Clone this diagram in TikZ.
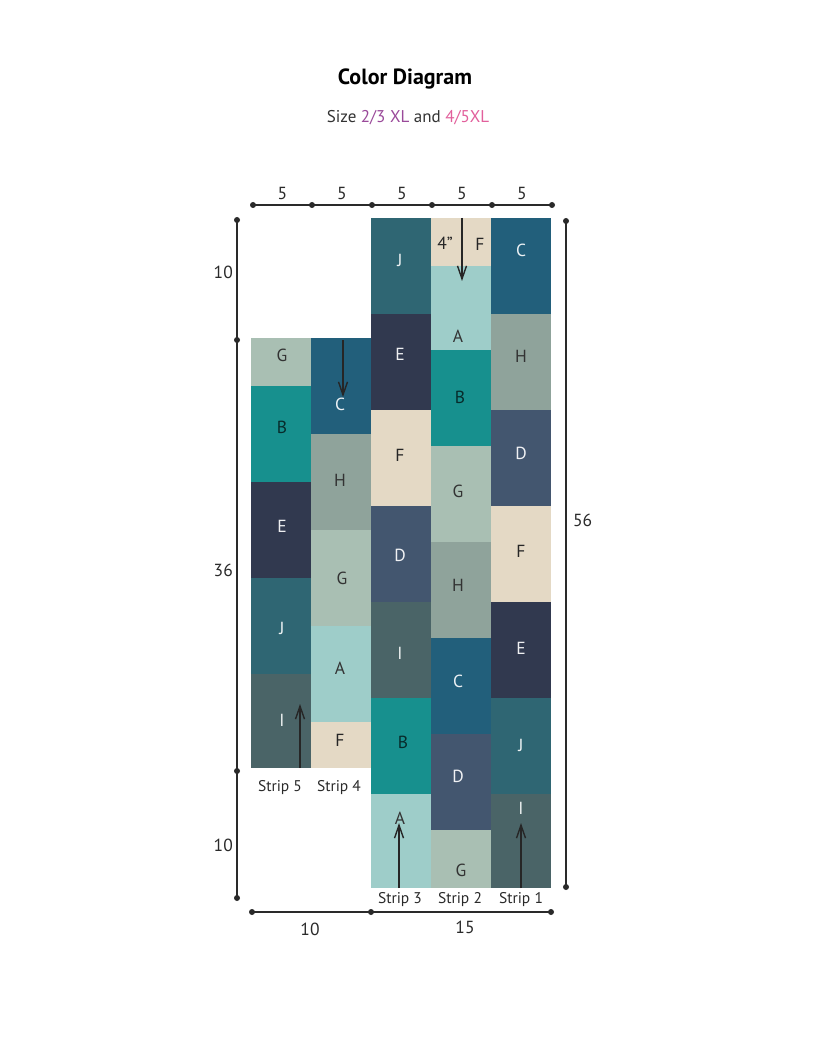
\documentclass[tikz,border=0pt]{standalone}
\usepackage{fontspec}
\setmainfont{PT Sans}
\usetikzlibrary{arrows.meta}

\definecolor{cA}{HTML}{9ECDC9}
\definecolor{cB}{HTML}{17908E}
\definecolor{cC}{HTML}{225F7B}
\definecolor{cD}{HTML}{43566F}
\definecolor{cE}{HTML}{31394F}
\definecolor{cF}{HTML}{E4D9C5}
\definecolor{cG}{HTML}{A9BFB3}
\definecolor{cH}{HTML}{8FA39B}
\definecolor{cI}{HTML}{4A6467}
\definecolor{cJ}{HTML}{2F6673}
\colorlet{txA}{black!80}
\colorlet{txB}{cB!30!black}
\colorlet{txC}{white!92!cC}
\colorlet{txD}{white!92!cD}
\colorlet{txE}{white!92!cE}
\colorlet{txF}{black!85}
\colorlet{txG}{black!80}
\colorlet{txH}{black!80}
\colorlet{txI}{white!92!cI}
\colorlet{txJ}{white!92!cJ}
\definecolor{dimgray}{HTML}{2A2A2A}
\definecolor{sizeA}{HTML}{9A4A9A}
\definecolor{sizeB}{HTML}{E2609C}

\begin{document}
\begin{tikzpicture}[
    x=1pt, y=-1pt,
    >={Straight Barb[length=13pt, width=9pt]},
    letter/.style={font=\fontsize{17.5}{20}\selectfont},
    dimline/.style={draw=dimgray, line width=1.4pt},
    dimlbl/.style={font=\fontsize{17.5}{20}\selectfont, text=dimgray, inner sep=0pt},
    striplbl/.style={font=\fontsize{15.5}{18}\selectfont, text=dimgray},
    grain/.style={->, line width=1.4pt, draw=black!85}
]
\useasboundingbox[fill=white] (0,0) rectangle (822,1040);

\node[font=\bfseries\fontsize{22}{26}\selectfont] (title) at (405,79) {Color Diagram};
\node[font=\fontsize{17}{20}\selectfont, text=black!80] (size) at (408,118)
    {Size \textcolor{sizeA}{2/3 XL} and \textcolor{sizeB}{4/5XL}};

% blocks: strip x / top / bottom / letter / label x / label y
\foreach \xa/\ya/\yb/\c/\lx/\ly [count=\i] in {
    491/218/314/C/521/250, 491/314/410/H/521/356, 491/410/506/D/521/453,
    491/506/602/F/521/551, 491/602/698/E/521/648, 491/698/794/J/521/745,
    491/794/888/I/521/808,
    431/218/266/F/480/244, 431/266/350/A/458/336, 431/350/446/B/460/397,
    431/446/542/G/458/491, 431/542/638/H/458/585, 431/638/734/C/458/681,
    431/734/830/D/458/776, 431/830/888/G/461/870,
    371/218/314/J/400/260, 371/314/410/E/400/354, 371/410/506/F/400/455,
    371/506/602/D/400/555, 371/602/698/I/400/653, 371/698/794/B/403/742,
    371/794/888/A/400/818,
    311/338/434/C/340/404, 311/434/530/H/340/480, 311/530/626/G/342/578,
    311/626/722/A/340/668, 311/722/768/F/340/740,
    251/338/386/G/282/355, 251/386/482/B/282/427, 251/482/578/E/282/526,
    251/578/674/J/282/628, 251/674/768/I/282/720}
{
    \fill[c\c] (\xa,\ya) rectangle (\xa+60,\yb);
    \node[letter, text=tx\c] (blk\i) at (\lx,\ly) {\c};
}
\node[letter, text=txF] (inch) at (445,243) {4\textquotedblright};

% grain arrows
\coordinate (g1a) at (521,888); \coordinate (g1b) at (521,823);
\coordinate (g2a) at (462,218); \coordinate (g2b) at (462,281);
\coordinate (g3a) at (399,888); \coordinate (g3b) at (399,823);
\coordinate (g4a) at (343,340); \coordinate (g4b) at (343,397);
\coordinate (g5a) at (300,768); \coordinate (g5b) at (300,704);
\foreach \s in {1,...,5}
    \draw[grain] (g\s a) -- (g\s b);

% strip names
\node[striplbl] (strip5) at (280,788) {Strip 5};
\node[striplbl] (strip4) at (339,788) {Strip 4};
\node[striplbl] (strip3) at (400,900) {Strip 3};
\node[striplbl] (strip2) at (460,900) {Strip 2};
\node[striplbl] (strip1) at (521,900) {Strip 1};

% top dimensions
\foreach \i/\x in {0/253, 1/312, 2/372, 3/432, 4/492, 5/552}
    \coordinate (t\i) at (\x,205);
\draw[dimline] (t0) -- (t5);
\foreach \i [evaluate=\i as \j using int(\i+1)] in {0,...,4}
    \path (t\i) -- (t\j) node[midway, above=5pt, dimlbl] {5};

% left dimensions
\foreach \i/\y in {0/220, 1/340, 2/771, 3/898}
    \coordinate (l\i) at (237,\y);
\draw[dimline] (l0) -- (l3);
\node[dimlbl, anchor=east] (left10a) at (233,272) {10};
\node[dimlbl, anchor=east] (left36) at (233,570) {36};
\node[dimlbl, anchor=east] (left10b) at (233,845) {10};

% right dimension
\coordinate (r0) at (566,221);
\coordinate (r1) at (566,887);
\draw[dimline] (r0) -- (r1);
\node[dimlbl, anchor=west] (right56) at (573,520) {56};

% bottom dimensions
\coordinate (b0) at (252,912);
\coordinate (b1) at (371,912);
\coordinate (b2) at (551,912);
\draw[dimline] (b0) -- (b2);
\node[dimlbl] (bot10) at (310,929) {10};
\node[dimlbl] (bot15) at (465,927) {15};

\foreach \p in {t0,t1,t2,t3,t4,t5,l0,l1,l2,l3,r0,r1,b0,b1,b2}
    \fill[dimgray] (\p) circle (3pt);
\end{tikzpicture}
\end{document}
